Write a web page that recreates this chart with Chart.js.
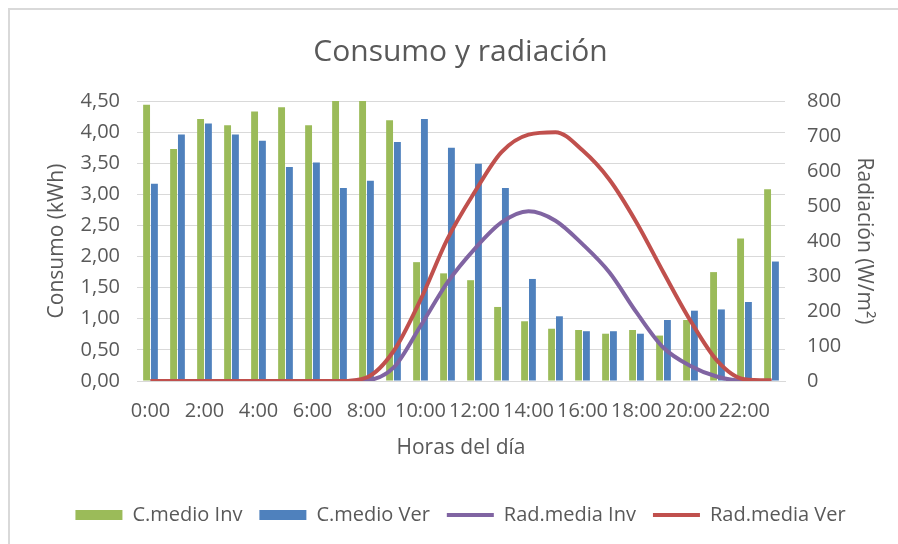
<!DOCTYPE html>
<html>
<head>
<meta charset="utf-8">
<script src="https://cdn.jsdelivr.net/npm/chart.js@4/dist/chart.umd.min.js"></script>
<style>
  html, body { margin: 0; padding: 0; background: #fff; overflow: hidden; }
  #frame { position: absolute; left: 8px; top: 8px; width: 1000px; height: 1000px; border: 2px solid #d9d9d9; }
  #wrap { position: absolute; left: 0; top: 0; width: 898px; height: 544px; }
</style>
</head>
<body>
<div id="frame"></div>
<div id="wrap"><canvas id="consumoChart" width="898" height="544"></canvas></div>
<script>
const horas = ['0:00','1:00','2:00','3:00','4:00','5:00','6:00','7:00','8:00','9:00','10:00','11:00',
               '12:00','13:00','14:00','15:00','16:00','17:00','18:00','19:00','20:00','21:00','22:00','23:00'];
const consumoInv = [4.44, 3.73, 4.21, 4.11, 4.33, 4.40, 4.11, 4.50, 4.50, 4.19, 1.91, 1.73,
                    1.62, 1.19, 0.96, 0.84, 0.82, 0.76, 0.82, 0.73, 0.98, 1.75, 2.29, 3.08];
const consumoVer = [3.17, 3.96, 4.14, 3.96, 3.86, 3.44, 3.51, 3.10, 3.22, 3.84, 4.21, 3.75,
                    3.49, 3.10, 1.64, 1.04, 0.80, 0.80, 0.76, 0.98, 1.13, 1.15, 1.27, 1.92];
const radInv = [0, 0, 0, 0, 0, 0, 0, 0, 2, 38, 157, 282, 377, 453, 485, 458, 391, 310, 196, 95, 43, 12, 0, 0];
const radVer = [0, 0, 0, 0, 0, 0, 0, 0, 10, 85, 232, 406, 539, 654, 704, 711, 659, 575, 453, 310, 172, 57, 5, 2];

const gris = '#595959';
const fuente = "'Open Sans', sans-serif";

const ctx = document.getElementById('consumoChart').getContext('2d');
const chart = new Chart(ctx, {
    type: 'bar',
    data: {
        labels: horas,
        datasets: [
            { label: 'C.medio Inv', data: consumoInv, backgroundColor: '#9bbb59', yAxisID: 'y', order: 2,
              categoryPercentage: 0.58, barPercentage: 0.88 },
            { label: 'C.medio Ver', data: consumoVer, backgroundColor: '#4f81bd', yAxisID: 'y', order: 2,
              categoryPercentage: 0.58, barPercentage: 0.88 },
            { type: 'line', label: 'Rad.media Inv', data: radInv, borderColor: '#8064a2', backgroundColor: '#8064a2',
              borderWidth: 4, pointRadius: 0, cubicInterpolationMode: 'monotone', yAxisID: 'y1', order: 1 },
            { type: 'line', label: 'Rad.media Ver', data: radVer, borderColor: '#c0504d', backgroundColor: '#c0504d',
              borderWidth: 4, pointRadius: 0, cubicInterpolationMode: 'monotone', yAxisID: 'y1', order: 0 }
        ]
    },
    options: {
        responsive: false,
        animation: false,
        layout: { padding: { left: 40, right: 17, top: 0, bottom: 9 } },
        scales: {
            x: {
                grid: { display: false, drawTicks: false },
                border: { color: '#d9d9d9' },
                ticks: {
                    color: gris, font: { family: fuente, size: 20 }, padding: 18,
                    autoSkip: false, maxRotation: 0,
                    callback: function (v, i) { return i % 2 === 0 ? horas[i] : ''; }
                },
                title: { display: true, text: 'Horas del día', color: gris, font: { family: fuente, size: 21 }, padding: { top: 4, bottom: 27 } },
                afterFit: s => { s.height = 107; }
            },
            y: {
                position: 'left', min: 0, max: 4.5,
                grid: { color: '#d9d9d9', drawTicks: false },
                border: { display: false },
                ticks: {
                    stepSize: 0.5, color: gris, font: { family: fuente, size: 20 }, padding: 17,
                    callback: v => v.toFixed(2).replace('.', ',')
                },
                title: { display: true, text: 'Consumo (kWh)', color: gris, font: { family: fuente, size: 21 }, padding: { top: 4 } },
                afterFit: s => { s.width = 97; }
            },
            y1: {
                position: 'right', min: 0, max: 800,
                grid: { display: false, drawTicks: false },
                border: { display: false },
                ticks: { stepSize: 100, color: gris, font: { family: fuente, size: 20 }, padding: 22 },
                title: { display: true, text: 'Radiación (W/m²)', color: gris, font: { family: fuente, size: 21 }, padding: { top: 4 } },
                afterFit: s => { s.width = 96; }
            }
        },
        plugins: {
            title: {
                display: true, text: 'Consumo y radiación', color: gris,
                font: { family: fuente, size: 30, weight: 'normal' },
                padding: { top: 34, bottom: 31 }
            },
            legend: {
                position: 'bottom',
                labels: {
                    color: gris, font: { family: fuente, size: 20 },
                    usePointStyle: true, pointStyleWidth: 47, boxHeight: 10, padding: 17,
                    generateLabels: function (c) {
                        return c.data.datasets.map((ds, i) => ({
                            text: ds.label,
                            fillStyle: ds.backgroundColor,
                            strokeStyle: ds.type === 'line' ? ds.borderColor : ds.backgroundColor,
                            lineWidth: ds.type === 'line' ? 4 : 0,
                            pointStyle: ds.type === 'line' ? 'line' : 'rect',
                            fontColor: gris,
                            hidden: false,
                            datasetIndex: i
                        }));
                    }
                }
            },
            tooltip: { enabled: false }
        }
    }
});
</script>
</body>
</html>
